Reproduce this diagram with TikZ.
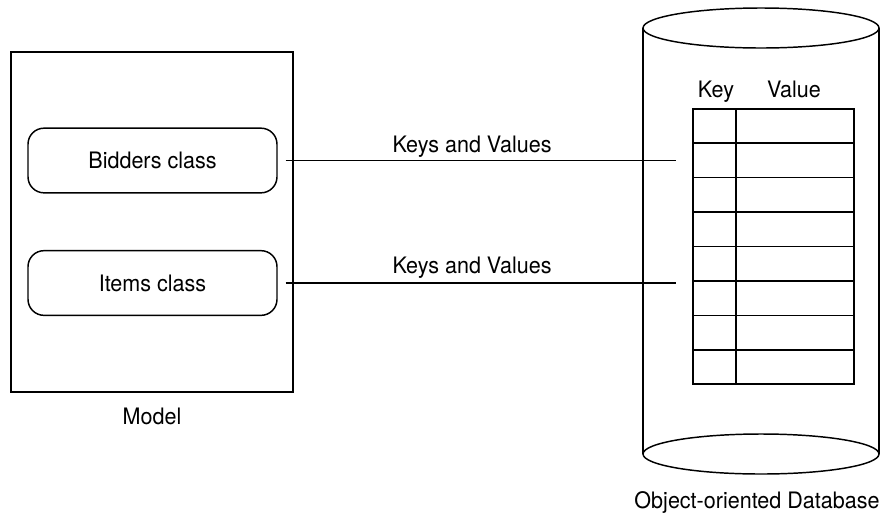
\documentclass[tikz,border=0pt]{standalone}
\usepackage{fontspec}
\setmainfont{TeX Gyre Heros}[FakeStretch=0.95]
\usetikzlibrary{calc}
\begin{document}
\begin{tikzpicture}[x=0.75pt,y=-0.75pt,line width=1.1pt,
  txt/.style={font=\fontsize{17}{20}\selectfont,inner sep=0pt,anchor=base},
  classbox/.style={draw,rounded corners=12pt,minimum width=186.75pt,minimum height=48.5pt,inner sep=0pt,font=\fontsize{17}{20}\selectfont},
  plainbox/.style={draw,inner sep=0pt}]
\useasboundingbox (0,0) rectangle (888,515);
% Model
\node[plainbox,minimum width=211.5pt,minimum height=255pt] (model) at (152,222) {};
\node[classbox] (bidders) at (152.5,160.5) {Bidders class};
\node[classbox] (items) at (152.5,283) {Items class};
\node[txt] (modellbl) at (152,424) {Model};
% Cylinder
\draw (643,28) -- (643,454);
\draw (879,28) -- (879,454);
\draw[fill=white] (761,28) ellipse [x radius=88.5pt,y radius=15pt];
\draw (761,454) ellipse [x radius=88.5pt,y radius=15pt];
\node[txt] (dblbl) at (757,508) {Object-oriented Database};
% Table
\node[plainbox,minimum width=120.75pt,minimum height=206.25pt] (table) at (773.5,246.5) {};
\foreach \k in {1,...,7}{
  \draw ($(table.north west)!\k/8!(table.south west)$) -- ($(table.north east)!\k/8!(table.south east)$);
}
\coordinate (kd) at (736,109);
\draw (kd) -- (kd |- table.south);
\node[txt] (keylbl) at (716,97) {Key};
\node[txt] (vallbl) at (794,97) {Value};
% Connectors
\coordinate (e1) at ($(table.west |- bidders.east)+(-16,0)$);
\coordinate (e2) at ($(table.west |- items.east)+(-16,0)$);
\draw ($(bidders.east)+(8,0)$) -- (e1);
\draw ($(items.east)+(8,0)$) -- (e2);
\node[txt] (kv1) at (472,152) {Keys and Values};
\node[txt] (kv2) at (472,273) {Keys and Values};
\end{tikzpicture}
\end{document}
